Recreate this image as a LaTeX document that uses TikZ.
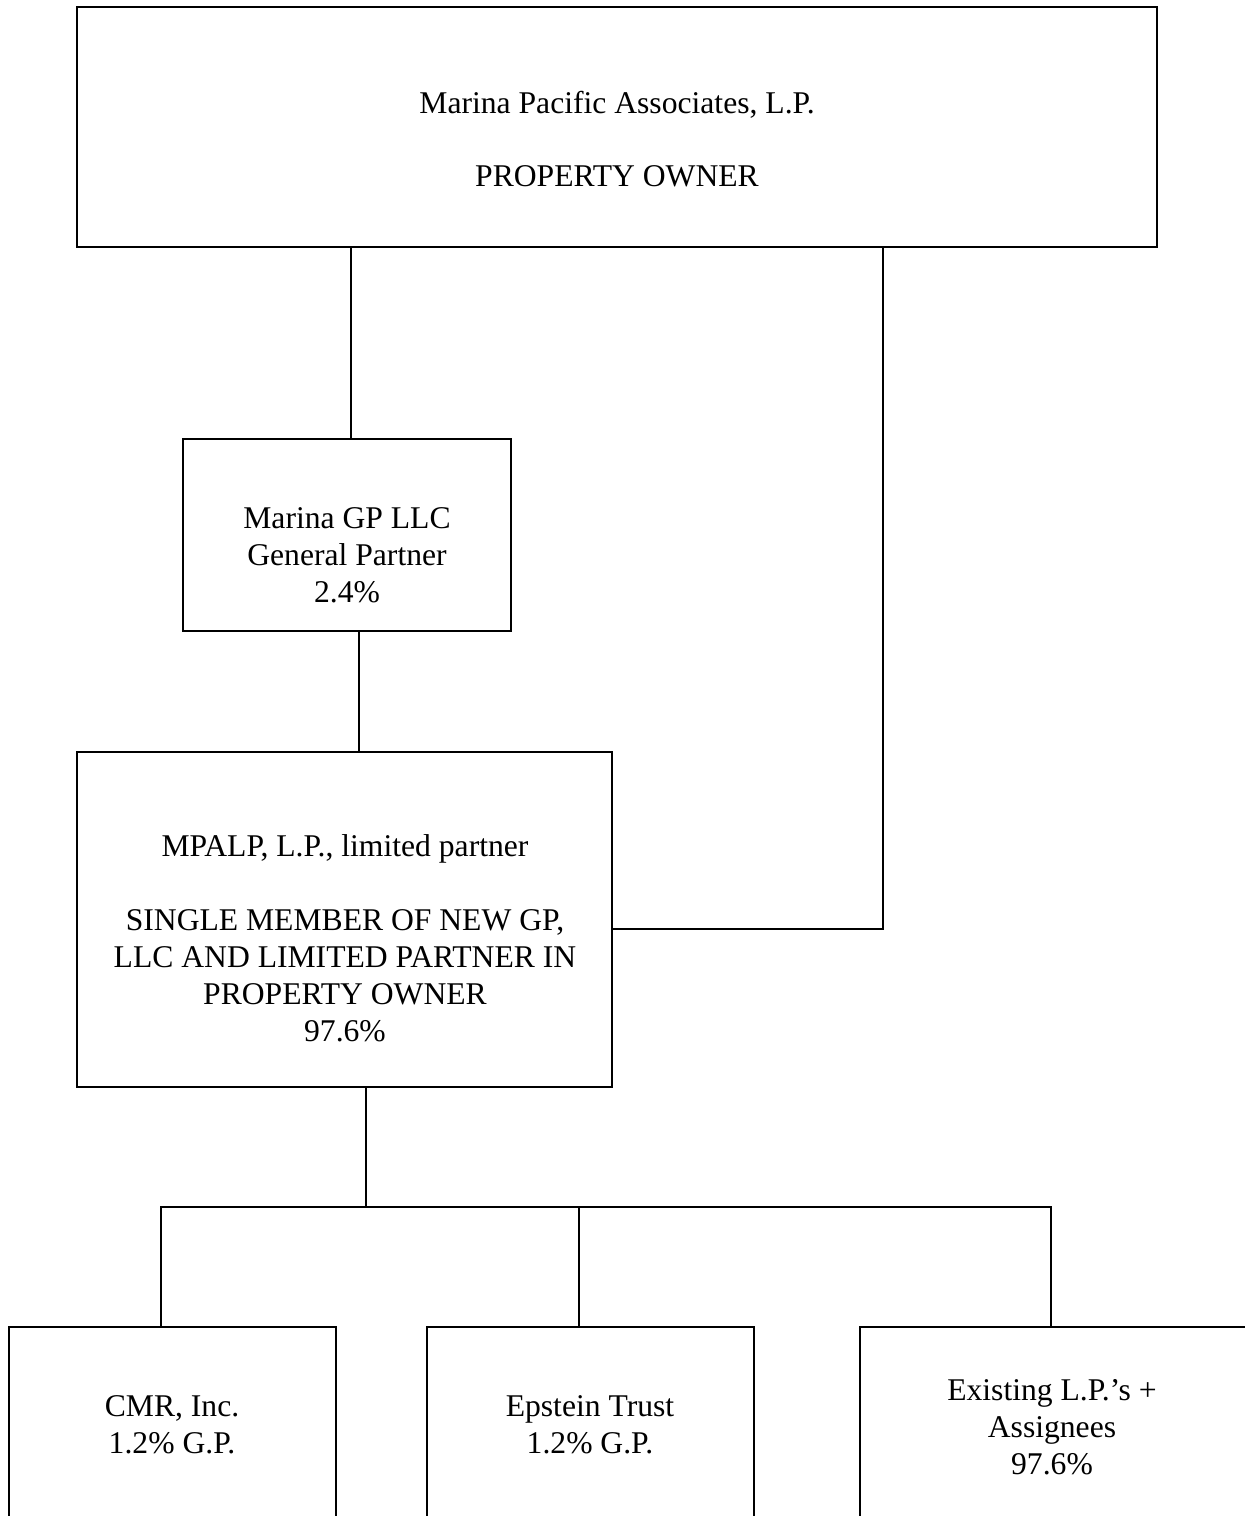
\documentclass[tikz,border=0pt]{standalone}
\usepackage{fontspec}
\setmainfont{Liberation Serif}

\begin{document}
\begin{tikzpicture}[
		x=0.02cm,y=-0.02cm,
		block/.style={draw,line width=0.9pt,inner sep=0pt},
		txt/.style={align=center,inner sep=0pt,font=\fontsize{18}{21}\selectfont}
		]
		\useasboundingbox (0,0) rectangle (1245,1516);
		\clip (0,0) rectangle (1245,1516);
		%Draw boxes
		\path (617,127) node[block,minimum width=21.6cm,minimum height=4.8cm] (owner) {}
		(347,535) node[block,minimum width=6.56cm,minimum height=3.84cm] (gp) {}
		(344.5,919.5) node[block,minimum width=10.7cm,minimum height=6.7cm] (mpalp) {}
		(172.5,1426) node[block,minimum width=6.54cm,minimum height=3.96cm] (cmr) {}
		(590.5,1426) node[block,minimum width=6.54cm,minimum height=3.96cm] (epstein) {}
		(1053.5,1426) node[block,minimum width=7.74cm,minimum height=3.96cm] (existing) {};
		%Draw texts
		\path (617,139) node[txt] (ownertext) {Marina Pacific Associates, L.P.\\[21pt]PROPERTY OWNER}
		(347,555) node[txt] (gptext) {Marina GP LLC\\General Partner\\2.4\%}
		(345,938) node[txt] (mpalptext) {MPALP, L.P., limited partner\\[21pt]SINGLE MEMBER OF NEW GP,\\LLC AND LIMITED PARTNER IN\\PROPERTY OWNER\\97.6\%}
		(172,1425) node[txt] (cmrtext) {CMR, Inc.\\1.2\% G.P.}
		(590,1425) node[txt] (epsteintext) {Epstein Trust\\1.2\% G.P.}
		(1052,1427) node[txt] (existingtext) {Existing L.P.’s +\\Assignees\\97.6\%};
		%Draw connections
		\coordinate (bus) at (366,1207);
		\draw[line width=0.9pt] ([xshift=0.08cm]gp.north) -- ([xshift=0.08cm]gp.north |- owner.south);
		\draw[line width=0.9pt] ([xshift=0.24cm]gp.south) -- ([xshift=0.24cm]gp.south |- mpalp.north);
		\draw[line width=0.9pt] ([xshift=5.32cm]owner.south) |- ([yshift=-0.19cm]mpalp.east);
		\draw[line width=0.9pt] (mpalp.south -| bus) -- (bus);
		\draw[line width=0.9pt] ([xshift=-0.23cm]cmr.north) |- ([xshift=-0.05cm]existing.north |- bus) -- ([xshift=-0.05cm]existing.north);
		\draw[line width=0.9pt] ([xshift=-0.23cm]epstein.north) -- ([xshift=-0.23cm]epstein.north |- bus);
\end{tikzpicture}
\end{document}
